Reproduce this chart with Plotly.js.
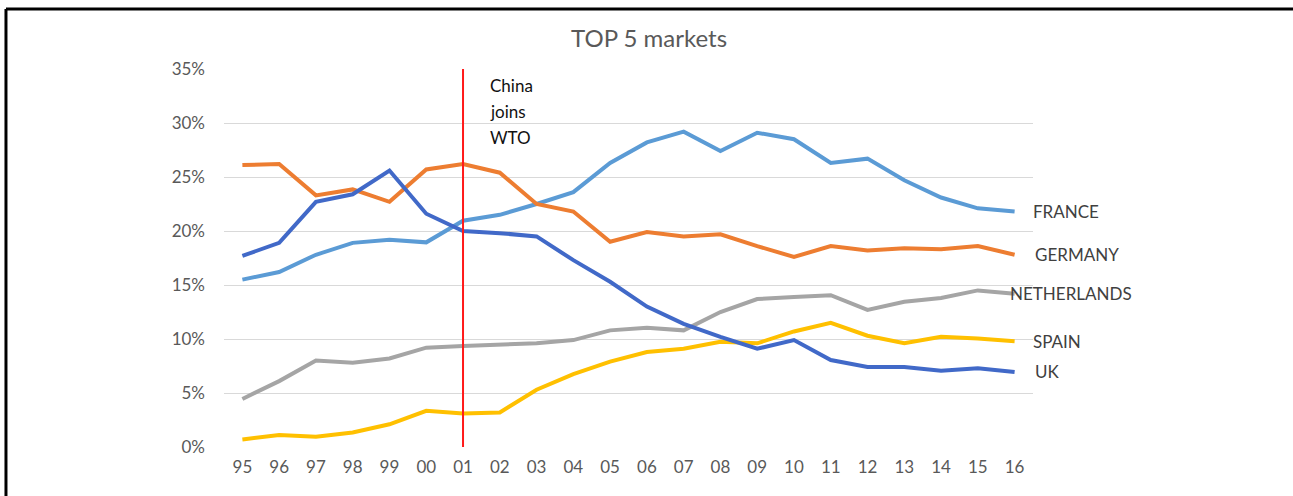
<!DOCTYPE html>
<html>
<head>
<meta charset="utf-8">
<script src="https://cdn.plot.ly/plotly-3.0.1.min.js"></script>
<style>html,body{margin:0;padding:0;background:#fff;}#chart{width:1293px;height:496px;}</style>
</head>
<body>
<div id="chart"></div>
<script>
const years = ["95","96","97","98","99","00","01","02","03","04","05","06","07","08","09","10","11","12","13","14","15","16"];
const france = [15.5,16.2,17.8,18.9,19.2,18.95,20.95,21.5,22.5,23.6,26.3,28.2,29.2,27.4,29.1,28.5,26.3,26.7,24.7,23.1,22.1,21.8];
const germany = [26.1,26.2,23.3,23.85,22.7,25.7,26.2,25.4,22.5,21.8,19.0,19.9,19.5,19.7,18.6,17.6,18.6,18.2,18.4,18.3,18.6,17.8];
const netherlands = [4.45,6.1,8.0,7.8,8.2,9.2,9.35,9.5,9.6,9.9,10.8,11.05,10.8,12.5,13.7,13.9,14.05,12.7,13.45,13.8,14.5,14.2];
const spain = [0.7,1.1,0.95,1.35,2.1,3.35,3.1,3.2,5.3,6.75,7.9,8.8,9.1,9.75,9.6,10.7,11.5,10.3,9.6,10.2,10.05,9.8];
const uk = [17.7,18.9,22.7,23.4,25.6,21.6,20.0,19.8,19.5,17.3,15.3,13.0,11.4,10.2,9.1,9.9,8.05,7.4,7.4,7.05,7.3,6.95];
const seriesNames = ["FRANCE","GERMANY","NETHERLANDS","SPAIN","UK"];
const eventYear = "01";
const eventLines = ["China","joins","WTO"];

const seriesData = [france, germany, netherlands, spain, uk];
const colors = ["#5B9BD5","#ED7D31","#A5A5A5","#FFC000","#4169C8"];
const labelShift = [16, 18, -7, 16, 18];
const xIdx = years.map((_, i) => i);
const eventIdx = years.indexOf(eventYear);
const lastIdx = years.length - 1;

const traces = seriesData.map((vals, i) => ({
  type: "scatter", mode: "lines", x: xIdx, y: vals, name: seriesNames[i],
  line: {color: colors[i], width: 4}, hoverinfo: "skip"
}));
const order = [2,3,0,1,4];
const data = order.map(i => traces[i]);

const font = "Lato, 'Open Sans', sans-serif";
const annotations = seriesNames.map((n, i) => ({
  x: lastIdx, y: seriesData[i][lastIdx], xref: "x", yref: "y",
  text: n, showarrow: false, xanchor: "left", yanchor: "middle", xshift: labelShift[i],
  font: {family: font, size: 17, color: "#404040"}
}));
const eventY = [33.5, 31.1, 28.7];
eventLines.forEach((t, k) => annotations.push({
  x: eventIdx, y: eventY[k], xref: "x", yref: "y", text: t, showarrow: false,
  xanchor: "left", yanchor: "middle", xshift: 25,
  font: {family: font, size: 17, color: "#111"}
}));

const layout = {
  width: 1293, height: 496,
  margin: {l: 224, r: 260, t: 69, b: 49},
  paper_bgcolor: "#fff", plot_bgcolor: "#fff",
  showlegend: false,
  title: {text: "TOP 5 markets", x: 0.502, xref: "container", xanchor: "center", y: 1, yref: "paper", yanchor: "bottom", pad: {b: 22},
    font: {family: font, size: 24, color: "#595959"}},
  xaxis: {type: "linear", range: [-0.5, years.length - 0.5], tickmode: "array", tickvals: xIdx, ticktext: years,
    showgrid: false, zeroline: false, showline: false,
    ticks: "", tickfont: {family: font, size: 17, color: "#595959"}, ticklabelstandoff: 8, fixedrange: true},
  yaxis: {range: [0, 35], dtick: 5, ticksuffix: "%", showgrid: true, gridcolor: "#d9d9d9", gridwidth: 1,
    zeroline: false, showline: false, ticks: "", tickfont: {family: font, size: 17, color: "#595959"},
    ticklabelstandoff: 18, fixedrange: true},
  shapes: [
    {type: "line", xref: "x", yref: "paper", x0: eventIdx, x1: eventIdx, y0: 0, y1: 1, line: {color: "#ff1a1a", width: 2}},
    {type: "line", xref: "paper", yref: "paper", x0: -0.2695, x1: 1.33, y0: 1.1587, y1: 1.1587, line: {color: "#000", width: 3}},
    {type: "line", xref: "paper", yref: "paper", x0: -0.2695, x1: -0.2695, y0: 1.1587, y1: -0.15, line: {color: "#000", width: 3}}
  ],
  annotations: annotations
};
Plotly.newPlot("chart", data, layout, {displayModeBar: false, staticPlot: true});
</script>
</body>
</html>
